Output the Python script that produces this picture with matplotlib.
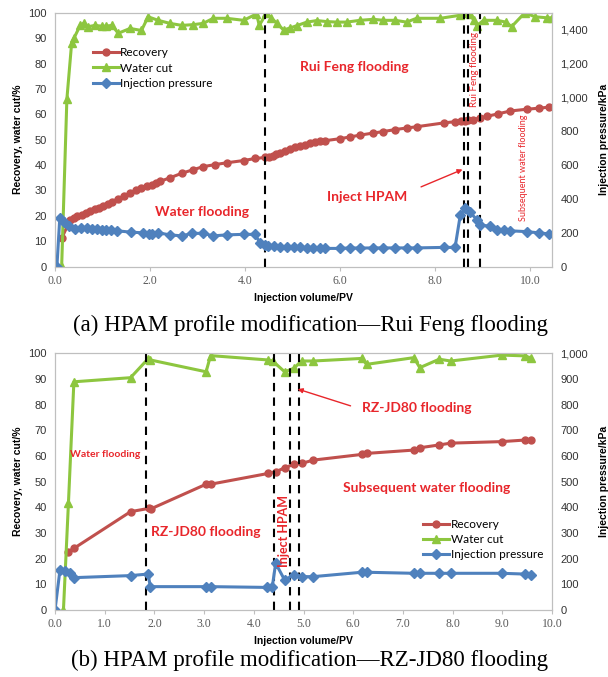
import matplotlib
matplotlib.use("Agg")
import matplotlib.pyplot as plt

# ---------------------------------------------------------------------------
# (a) HPAM profile modification - Rui Feng flooding
# ---------------------------------------------------------------------------
rec_a_x = [0.14, 0.32, 0.39, 0.47, 0.56, 0.65, 0.74, 0.84, 0.93, 1.02, 1.12, 1.21, 1.33, 1.45,
           1.58, 1.70, 1.82, 1.93, 2.04, 2.13, 2.21, 2.42, 2.67, 2.91, 3.12, 3.37, 3.61, 3.97,
           4.21, 4.42, 4.50, 4.58, 4.66, 4.74, 4.85, 4.95, 5.05, 5.16, 5.26, 5.37, 5.47, 5.58,
           5.68, 6.00, 6.21, 6.42, 6.69, 6.91, 7.16, 7.40, 7.61, 8.18, 8.42, 8.55, 8.63, 8.70,
           8.80, 8.95, 9.09, 9.33, 9.58, 9.93, 10.18, 10.39]
rec_a_y = [11.2, 18.4, 19.3, 19.8, 20.4, 21.0, 21.8, 22.6, 23.3, 24.0, 24.8, 25.6, 26.8, 27.8,
           29.0, 30.0, 31.0, 31.6, 32.2, 33.0, 33.6, 35.0, 36.8, 38.2, 39.4, 40.2, 40.9, 41.8,
           42.6, 43.0, 43.3, 43.7, 44.2, 44.8, 45.6, 46.4, 47.0, 47.6, 48.1, 48.6, 49.0, 49.3,
           49.6, 50.4, 51.1, 51.8, 52.6, 53.2, 54.0, 54.6, 55.1, 56.6, 57.1, 57.2, 57.4, 57.6,
           57.9, 58.6, 59.2, 60.2, 61.3, 62.0, 62.4, 62.8]

wc_a_x = [0.04, 0.14, 0.25, 0.35, 0.40, 0.53, 0.60, 0.70, 0.84, 0.98, 1.07, 1.20, 1.33, 1.58,
          1.82, 1.96, 2.17, 2.42, 2.67, 2.91, 3.12, 3.33, 3.61, 3.97, 4.24, 4.30, 4.45, 4.55,
          4.67, 4.81, 4.95, 5.09, 5.30, 5.51, 5.72, 5.93, 6.14, 6.42, 6.70, 6.91, 7.16, 7.40,
          7.61, 8.11, 8.53, 8.62, 8.74, 8.81, 8.88, 9.02, 9.30, 9.49, 9.61, 9.89, 10.10, 10.35,
          10.45]
wc_a_y = [0, 0, 66, 88, 90, 95, 95.8, 94.5, 95, 94.7, 94.7, 95, 91.9, 93.8,
          93, 98.4, 97, 95.8, 95, 95.3, 95.8, 97.8, 97.8, 97, 99.5, 95, 99.8, 98,
          95.8, 93.2, 94, 94.9, 96.3, 96.9, 96.5, 96.3, 96.3, 97, 97.4, 97, 97, 96.3,
          97.8, 97.8, 99, 100, 99.5, 97, 94.9, 97, 97, 96.3, 94.5, 100, 98.4, 98,
          98]

p_a_x = [0.04, 0.10, 0.19, 0.30, 0.42, 0.55, 0.67, 0.78, 0.88, 0.98, 1.07, 1.18, 1.30, 1.60,
         1.86, 1.97, 2.04, 2.17, 2.42, 2.67, 2.88, 3.12, 3.33, 3.61, 3.97, 4.21, 4.32, 4.42,
         4.49, 4.60, 4.74, 4.88, 5.02, 5.16, 5.30, 5.44, 5.58, 5.68, 6.00, 6.21, 6.42, 6.69,
         6.91, 7.16, 7.40, 7.61, 8.18, 8.42, 8.53, 8.63, 8.73, 8.88, 8.95, 9.16, 9.30, 9.44,
         9.58, 9.93, 10.18, 10.39]
p_a_y = [0, 285, 266, 240, 221, 228, 227, 224, 221, 218, 216, 215, 212, 204,
         200, 194, 191, 200, 188, 182, 197, 197, 182, 188, 191, 191, 138, 129,
         122, 120, 119, 117, 116, 114, 113, 111, 110, 108, 108, 111, 110, 111,
         111, 111, 111, 111, 114, 114, 305, 345, 324, 276, 246, 239, 216, 219,
         212, 207, 200, 194]

stage_a = [4.42, 8.60, 8.70, 8.95]

# ---------------------------------------------------------------------------
# (b) HPAM profile modification - RZ-JD80 flooding
# ---------------------------------------------------------------------------
rec_b_x = [0.27, 0.38, 1.52, 1.89, 1.93, 3.04, 3.13, 4.29, 4.45, 4.62, 4.80, 4.96, 5.20,
           6.17, 6.27, 7.22, 7.34, 7.73, 7.96, 8.99, 9.45, 9.58]
rec_b_y = [22.7, 24.0, 38.3, 39.6, 39.4, 49.0, 49.0, 53.2, 53.9, 55.4, 56.7, 57.1, 58.4,
           60.6, 61.0, 62.3, 63.2, 64.3, 65.0, 65.6, 66.2, 66.2]

wc_b_x = [0.17, 0.27, 0.38, 1.52, 1.87, 1.92, 3.04, 3.13, 4.29, 4.38, 4.62, 4.80, 4.96,
          5.20, 6.17, 6.27, 7.22, 7.34, 7.73, 7.96, 8.99, 9.45, 9.58]
wc_b_y = [0, 41.5, 88.9, 90.5, 97.8, 97.4, 92.8, 99.1, 97.4, 97.0, 92.8, 94.1, 97.0,
          97.0, 98.0, 95.7, 98.3, 94.4, 97.7, 97.0, 99.3, 99.0, 98.2]

p_b_x = [0.0, 0.10, 0.20, 0.30, 0.38, 1.52, 1.87, 1.92, 3.04, 3.13, 4.26, 4.37, 4.44, 4.62,
         4.80, 4.96, 5.20, 6.17, 6.27, 7.22, 7.34, 7.73, 7.96, 8.99, 9.45, 9.58]
p_b_y = [0, 156, 150, 144, 126, 134, 140, 91, 91, 91, 88, 88, 182, 117,
         136, 130, 130, 147, 147, 143, 143, 143, 143, 143, 140, 138]

stage_b = [1.84, 4.41, 4.72, 4.91]

labels = ["Recovery", "Water cut", "Injection pressure"]
captions = ["(a) HPAM profile modification\u2014Rui Feng flooding",
            "(b) HPAM profile modification\u2014RZ-JD80 flooding"]

RED = "#C0504D"
GREEN = "#8DC63F"
BLUE = "#4F81BD"
NOTE = "#E8262B"
GRAY = "#595959"

plt.rcParams["font.family"] = ["Liberation Sans", "DejaVu Sans"]

fig = plt.figure(figsize=(6.08, 6.77), dpi=100)
ax_a = fig.add_axes([55 / 608, 1 - 266.7 / 677, 497 / 608, 254 / 677])
ax_b = fig.add_axes([55 / 608, 1 - 610 / 677, 497 / 608, 256.7 / 677])


def draw_panel(ax, rx, ry, wx, wy, px, py, pmax, pticks, xmax, xticks, stages):
    tw = ax.twinx()
    l1, = ax.plot(rx, ry, color=RED, lw=2.2, marker="o", ms=5, label=labels[0])
    l2, = ax.plot(wx, wy, color=GREEN, lw=2.2, marker="^", ms=5.5, label=labels[1])
    l3, = tw.plot(px, py, color=BLUE, lw=2.2, marker="D", ms=4.6, label=labels[2])
    for s in stages:
        ax.axvline(s, color="black", lw=1.5, ls=(0, (4, 3)), zorder=5)
    ax.set_xlim(0, xmax)
    ax.set_ylim(0, 100)
    tw.set_ylim(0, pmax)
    ax.set_yticks(range(0, 101, 10))
    tw.set_yticks(pticks)
    tw.set_yticklabels([f"{t:,}" for t in pticks])
    ax.set_xticks(xticks)
    ax.set_xticklabels([f"{t:.1f}" for t in xticks], family="Liberation Serif",
                       fontsize=8.5, color=GRAY)
    for a in (ax, tw):
        for sp in a.spines.values():
            sp.set_color("#BFBFBF")
            sp.set_linewidth(0.8)
        a.tick_params(axis="y", length=0, labelsize=8, labelcolor="#333333", pad=6)
    ax.tick_params(axis="x", length=3, color="#BFBFBF", pad=3)
    ax.set_ylabel("Recovery, water cut/%", fontsize=7.5, fontweight="bold", labelpad=4)
    tw.set_ylabel("Injection pressure/kPa", fontsize=7.5, fontweight="bold", labelpad=8)
    ax.set_xlabel("Injection volume/PV", fontsize=7.5, fontweight="bold", labelpad=4)
    return tw, [l1, l2, l3]


tw_a, h_a = draw_panel(ax_a, rec_a_x, rec_a_y, wc_a_x, wc_a_y, p_a_x, p_a_y,
                       1500, list(range(0, 1401, 200)), 10.46, [0, 2, 4, 6, 8, 10], stage_a)
tw_b, h_b = draw_panel(ax_b, rec_b_x, rec_b_y, wc_b_x, wc_b_y, p_b_x, p_b_y,
                       1000, list(range(0, 1001, 100)), 10.0, list(range(0, 11)), stage_b)

leg_font = {"family": "Lato", "size": 8.5}
ax_a.legend(handles=h_a, loc="upper left", bbox_to_anchor=(0.055, 0.905), frameon=False,
            prop=leg_font, handlelength=2.2, labelspacing=0.35, handletextpad=0.1)
ax_b.legend(handles=h_b, loc="upper left", bbox_to_anchor=(0.72, 0.395), frameon=False,
            prop=leg_font, handlelength=2.2, labelspacing=0.35, handletextpad=0.1)
tw_a.set_zorder(ax_a.get_zorder() + 1)
tw_b.set_zorder(ax_b.get_zorder() + 1)

bold = {"family": "Lato", "fontweight": "bold", "color": NOTE}

# annotations (a)
tw_a.text(6.3, 1500 * 0.786, "Rui Feng flooding", ha="center", va="center", fontsize=10, **bold)
tw_a.text(3.1, 1500 * 0.215, "Water flooding", ha="center", va="center", fontsize=10, **bold)
tw_a.text(6.57, 1500 * 0.274, "Inject HPAM", ha="center", va="center", fontsize=10, **bold)
tw_a.annotate("", xy=(8.63, 1500 * 0.387), xytext=(7.65, 1500 * 0.31),
              arrowprops=dict(arrowstyle="-|>", color=NOTE, lw=1, mutation_scale=7))
tw_a.text(8.82, 1500 * 0.778, "Rui Feng flooding", ha="center", va="center", rotation=90,
          family="Lato", color=NOTE, fontsize=7)
tw_a.text(9.86, 1500 * 0.39, "Subsequent water flooding", ha="center", va="center",
          rotation=90, family="Lato", color=NOTE, fontsize=6.5)

# annotations (b)
tw_b.text(0.3, 1000 * 0.604, "Water flooding", ha="left", va="center", family="Lato",
          color=NOTE, fontsize=7.5, fontweight="bold")
tw_b.text(3.04, 1000 * 0.305, "RZ-JD80 flooding", ha="center", va="center", fontsize=10, **bold)
tw_b.text(4.61, 1000 * 0.308, "Inject HPAM", ha="center", va="center", rotation=90,
          fontsize=9, **bold)
tw_b.text(7.27, 1000 * 0.786, "RZ-JD80 flooding", ha="center", va="center", fontsize=10, **bold)
tw_b.annotate("", xy=(4.83, 1000 * 0.864), xytext=(6.0, 1000 * 0.792),
              arrowprops=dict(arrowstyle="-|>", color=NOTE, lw=1, mutation_scale=7))
tw_b.text(7.47, 1000 * 0.474, "Subsequent water flooding", ha="center", va="center",
          fontsize=10, **bold)

fig.text(310 / 608, 1 - 325 / 677, captions[0], ha="center", va="center",
         family="Liberation Serif", fontsize=16.5)
fig.text(310 / 608, 1 - 660 / 677, captions[1], ha="center", va="center",
         family="Liberation Serif", fontsize=16.5)

fig.savefig("out.png", dpi=100)
